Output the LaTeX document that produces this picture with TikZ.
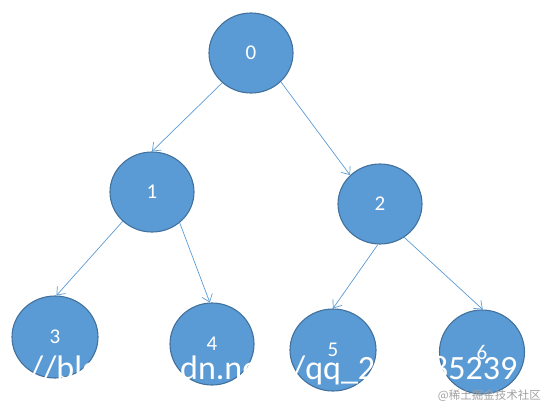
\documentclass[tikz,border=0pt]{standalone}
\usepackage{fontspec}
\setmainfont{Carlito}
\newfontfamily\cjk{Noto Sans CJK SC}
\usetikzlibrary{shapes.geometric,arrows.meta}
\definecolor{nodefill}{HTML}{5B9BD5}
\definecolor{nodeline}{HTML}{41719C}
\definecolor{edgecol}{HTML}{5B9BD5}
\definecolor{wmgray}{HTML}{A0A0A0}
\tikzset{
  treenode/.style={ellipse, draw=nodeline, fill=nodefill, line width=1.1pt,
    minimum width=84pt, minimum height=80pt, inner sep=0pt,
    text=white, font=\fontsize{21}{21}\selectfont},
  edge/.style={draw=edgecol, line width=0.7pt,
    -{Straight Barb[length=7pt,width=11pt,line width=0.7pt]}},
  wmark/.style={anchor=base west, inner sep=0pt, text=white, font=\fontsize{34}{34}\selectfont},
}
\begin{document}
\begin{tikzpicture}[x=1pt,y=-1pt]
\useasboundingbox (0,0) rectangle (548,407);
\node[treenode] (n0) at (251,53) {0};
\node[treenode] (n1) at (152,192) {1};
\node[treenode] (n2) at (380,204) {2};
\node[treenode, minimum width=86pt, minimum height=82pt] (n3) at (55,337) {3};
\node[treenode, minimum width=84pt, minimum height=82pt] (n4) at (212,344) {4};
\node[treenode, minimum width=86pt, minimum height=82pt] (n5) at (333,350) {5};
\node[treenode, minimum width=85pt, minimum height=84pt] (n6) at (482,352) {6};
\draw[edge] (n0.226) -- (n1.90);
\draw[edge] (n0.316) -- (n2.136);
\draw[edge] (n1.225) -- (n3.88);
\draw[edge] (n1.312) -- (n4.93);
\draw[edge] (n2.267) -- (n5.90);
\draw[edge] (n2.306) -- (n6.89);
\node[wmark] (wa) at (30,379) {//blog.cs};
\node[wmark] (wb) at (180,379) {dn.net};
\node[wmark] (wc) at (292,379) {/qq\_2};
\node[wmark] (wd) at (431,379) {85239};
\node[anchor=east, inner sep=0pt, text=wmgray, font=\cjk\fontsize{11.5}{11.5}\selectfont] (wm2) at (541,396) {@稀土掘金技术社区};
\end{tikzpicture}
\end{document}
